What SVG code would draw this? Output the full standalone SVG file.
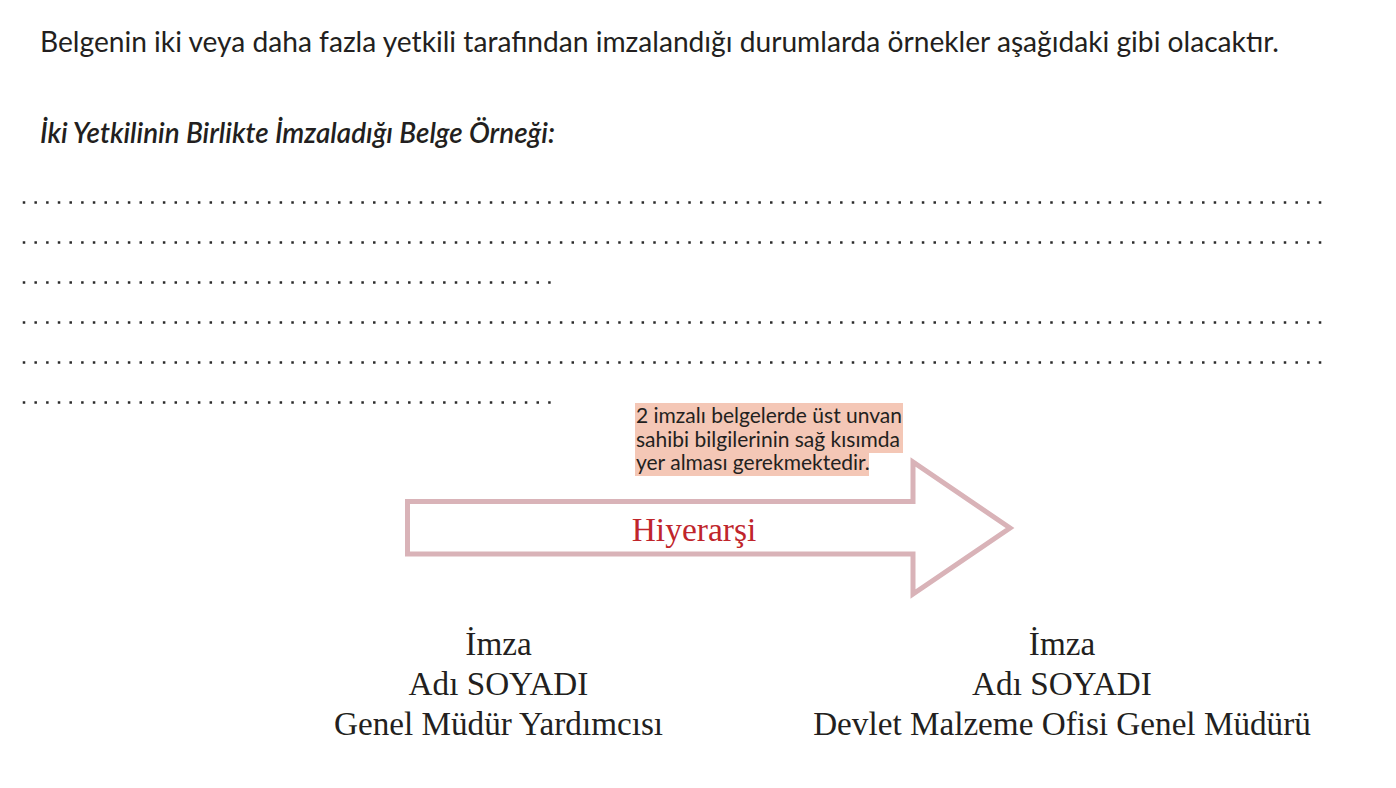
<svg xmlns="http://www.w3.org/2000/svg" width="1396" height="788" viewBox="0 0 1396 788">
<style>
.lato{font-family:Lato,"Open Sans","Liberation Sans",sans-serif;fill:#231f20}
.dots{stroke:#2b2b2b;stroke-width:2.5;stroke-dasharray:2.5 9.176;fill:none}
.serif{font-family:"Liberation Serif","Times New Roman",serif;font-size:33.2px;fill:#231f20;text-anchor:middle}
.arrow{fill:#fff;stroke:#d9b3b8;stroke-width:5}
</style>
<rect width="1396" height="788" fill="#fff"/>
<g id="title">
<text class="lato" x="40" y="52" font-size="28.15">Belgenin iki veya daha fazla yetkili tarafından imzalandığı durumlarda örnekler aşağıdaki gibi olacaktır.</text>
</g>
<g id="heading">
<text class="lato" x="40" y="143" font-size="27.8" font-style="italic" font-weight="600">İki Yetkilinin Birlikte İmzaladığı Belge Örneği:</text>
</g>
<g id="dotted-lines">
<line class="dots" x1="22.75" y1="202.5" x2="1322" y2="202.5"/>
<line class="dots" x1="22.75" y1="242.5" x2="1322" y2="242.5"/>
<line class="dots" x1="22.75" y1="282.5" x2="551" y2="282.5"/>
<line class="dots" x1="22.75" y1="322.5" x2="1322" y2="322.5"/>
<line class="dots" x1="22.75" y1="362.5" x2="1322" y2="362.5"/>
<line class="dots" x1="22.75" y1="402.5" x2="551" y2="402.5"/>
</g>
<g id="connectors">
<path id="hierarchy-arrow" class="arrow" d="M407.5,501.5 H913 V462 L1010,528 L913,594 V554 H407.5 Z"/>
</g>
<g id="hierarchy-label">
<text x="694" y="541" font-family="'Liberation Serif','Times New Roman',serif" font-size="33.5" fill="#c0252b" text-anchor="middle">Hiyerarşi</text>
</g>
<g id="note">
<rect x="635" y="403" width="268" height="50" fill="#f4c7b6"/>
<rect x="635" y="453" width="234" height="23" fill="#f4c7b6"/>
<text class="lato" font-size="21">
<tspan x="636" y="423">2 imzalı belgelerde üst unvan</tspan>
<tspan x="636" y="446.5">sahibi bilgilerinin sağ kısımda</tspan>
<tspan x="636" y="470">yer alması gerekmektedir.</tspan>
</text>
</g>
<g id="signer-left">
<text class="serif" x="498.5" y="655">İmza</text>
<text class="serif" x="498.5" y="695">Adı SOYADI</text>
<text class="serif" x="498.5" y="735">Genel Müdür Yardımcısı</text>
</g>
<g id="signer-right">
<text class="serif" x="1062" y="655">İmza</text>
<text class="serif" x="1062" y="695">Adı SOYADI</text>
<text class="serif" x="1062" y="735">Devlet Malzeme Ofisi Genel Müdürü</text>
</g>
</svg>
